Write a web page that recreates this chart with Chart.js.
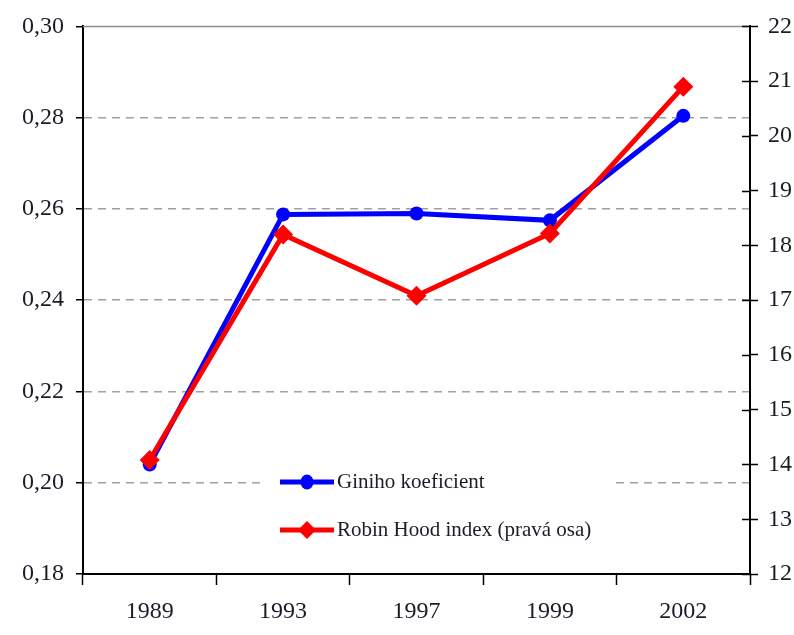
<!DOCTYPE html>
<html>
<head>
<meta charset="utf-8">
<script src="https://cdn.jsdelivr.net/npm/chart.js@4"></script>
<style>
  html, body { margin: 0; padding: 0; background: #fff; }
  #wrap { width: 794px; height: 635px; }
</style>
</head>
<body>
<div id="wrap"><canvas id="giniChart" width="794" height="635"></canvas></div>
<script>
// data
var years = ['1989', '1993', '1997', '1999', '2002'];
var giniValues = [0.204, 0.2588, 0.259, 0.2575, 0.2804];
var robinHoodValues = [14.08, 18.2, 17.08, 18.22, 20.9];
var leftTicks = [0.18, 0.20, 0.22, 0.24, 0.26, 0.28, 0.30];
var rightTicks = [12, 13, 14, 15, 16, 17, 18, 19, 20, 21, 22];

var serif = '"Liberation Serif", "Times New Roman", serif';
var textColor = '#1c1c28';

// legend inside the plot, with white box over the grid
var insideLegend = {
  id: 'insideLegend',
  afterDatasetsDraw: function(chart) {
    var ctx = chart.ctx;
    ctx.save();
    ctx.fillStyle = '#fff';
    ctx.fillRect(262, 468, 350, 76);
    var rows = [{ ds: chart.data.datasets[0], y: 482 }, { ds: chart.data.datasets[1], y: 530 }];
    rows.forEach(function(r) {
      ctx.strokeStyle = r.ds.borderColor;
      ctx.lineWidth = 5;
      ctx.beginPath();
      ctx.moveTo(280, r.y);
      ctx.lineTo(334, r.y);
      ctx.stroke();
      ctx.fillStyle = r.ds.borderColor;
      ctx.beginPath();
      if (r.ds.pointStyle === 'rectRot') {
        ctx.moveTo(307, r.y - 9);
        ctx.lineTo(316, r.y);
        ctx.lineTo(307, r.y + 9);
        ctx.lineTo(298, r.y);
      } else {
        ctx.ellipse(307, r.y, 6.5, 7.5, 0, 0, Math.PI * 2);
      }
      ctx.fill();
      ctx.fillStyle = textColor;
      ctx.font = '21px ' + serif;
      ctx.textBaseline = 'middle';
      ctx.fillText(r.ds.label, 337, r.y);
    });
    ctx.restore();
  },
  afterDraw: function(chart) {
    var ctx = chart.ctx;
    var a = chart.chartArea;
    var y1 = chart.scales.y1;
    ctx.save();
    // top frame line
    ctx.strokeStyle = '#8c8c8c';
    ctx.lineWidth = 1.5;
    ctx.beginPath();
    ctx.moveTo(a.left, a.top);
    ctx.lineTo(a.right, a.top);
    ctx.stroke();
    // inner halves of the right axis tick marks
    ctx.strokeStyle = '#000';
    ctx.lineWidth = 1.5;
    rightTicks.forEach(function(v) {
      var py = Math.round(y1.getPixelForValue(v)) + 0.5;
      ctx.beginPath();
      ctx.moveTo(a.right - 8, py);
      ctx.lineTo(a.right, py);
      ctx.stroke();
    });
    ctx.restore();
  }
};

var ctx = document.getElementById('giniChart').getContext('2d');
var chart = new Chart(ctx, {
  type: 'line',
  data: {
    labels: years,
    datasets: [{
      label: 'Giniho koeficient',
      data: giniValues,
      yAxisID: 'y',
      borderColor: '#0000ff',
      backgroundColor: '#0000ff',
      borderWidth: 5,
      pointStyle: 'circle',
      pointRadius: 7,
      pointBorderWidth: 0,
      order: 2
    }, {
      label: 'Robin Hood index (pravá osa)',
      data: robinHoodValues,
      yAxisID: 'y1',
      borderColor: '#ff0000',
      backgroundColor: '#ff0000',
      borderWidth: 5,
      pointStyle: 'rectRot',
      pointRadius: 10,
      pointBorderWidth: 0,
      order: 1
    }]
  },
  options: {
    responsive: false,
    animation: false,
    layout: { padding: { top: 24, left: 0, right: 0, bottom: 0 } },
    plugins: {
      legend: { display: false },
      tooltip: { enabled: false }
    },
    scales: {
      x: {
        offset: true,
        grid: {
          offset: true,
          drawOnChartArea: false,
          tickLength: 11,
          tickColor: '#000',
          tickWidth: 1.5
        },
        border: { color: '#000', width: 2 },
        ticks: {
          color: textColor,
          font: { family: serif, size: 24 },
          padding: 12
        },
        afterFit: function(s) { s.height = 61; }
      },
      y: {
        position: 'left',
        min: 0.18,
        max: 0.30,
        afterBuildTicks: function(s) { s.ticks = leftTicks.map(function(v) { return { value: v }; }); },
        grid: {
          color: function(c) {
            var v = c.tick ? Math.round(c.tick.value * 100) : 0;
            return (v === 18 || v === 30) ? 'rgba(0,0,0,0)' : '#a0a0a0';
          },
          lineWidth: 1.5,
          tickLength: 7,
          tickColor: '#000',
          tickWidth: 1.5,
          tickBorderDash: []
        },
        border: { color: '#000', width: 2, dash: [8, 6] },
        ticks: {
          color: textColor,
          font: { family: serif, size: 24 },
          padding: 12,
          callback: function(v) { return v.toFixed(2).replace('.', ','); }
        },
        afterFit: function(s) { s.width = 83; }
      },
      y1: {
        position: 'right',
        min: 12,
        max: 22,
        afterBuildTicks: function(s) { s.ticks = rightTicks.map(function(v) { return { value: v }; }); },
        grid: {
          drawOnChartArea: false,
          tickLength: 8,
          tickColor: '#000',
          tickWidth: 1.5
        },
        border: { color: '#000', width: 2 },
        ticks: {
          color: textColor,
          font: { family: serif, size: 24 },
          padding: 10
        },
        afterFit: function(s) { s.width = 44; }
      }
    }
  },
  plugins: [insideLegend]
});
</script>
</body>
</html>
